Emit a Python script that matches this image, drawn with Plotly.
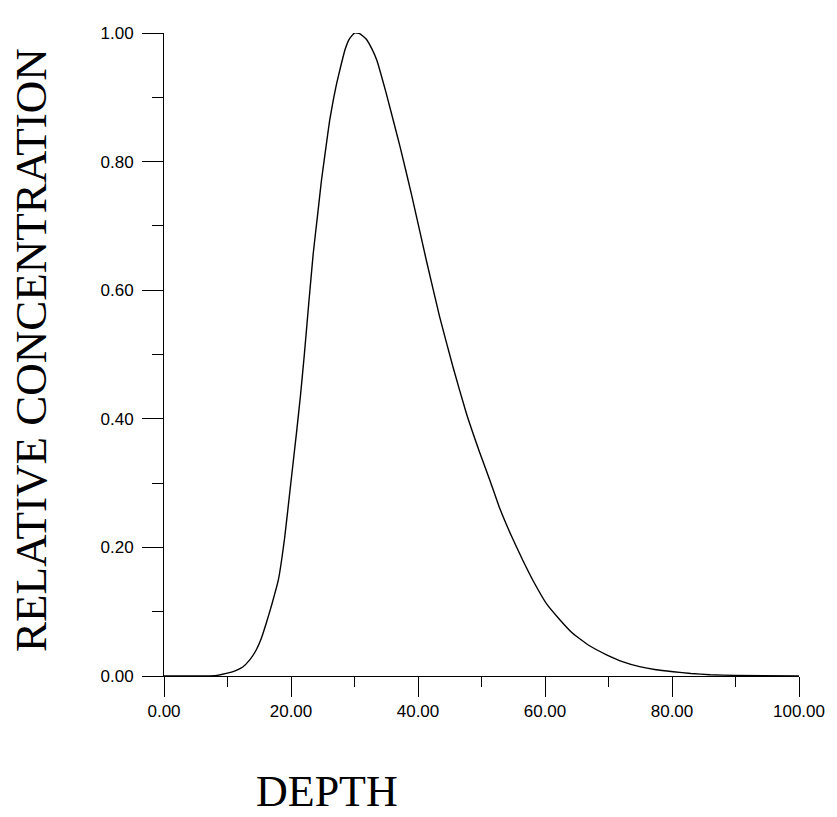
import plotly.graph_objects as go

depth = [0, 5, 8, 9.8, 11.2, 12.4, 13.5, 14.5, 15.3, 16.1, 17.0, 18.0, 19.0, 19.8, 20.85, 21.5,
         22.1, 22.8, 23.5, 24.2, 24.8, 25.5, 26.1, 26.7, 27.2, 27.9, 28.5, 29.2, 30.0, 30.8,
         31.9, 32.7, 33.5, 35.0, 37.2, 39.0, 41.3, 43.4, 45.5, 47.6,
         49.7, 51.3, 52.9, 54.7, 56.5, 58.3, 60.2, 62.3, 64.4, 67.0, 69.7, 72.3, 74.9, 77.5,
         80.2, 83.0, 86.0, 90.0, 100.0]
conc = [0, 0, 0.0005, 0.004, 0.008, 0.014, 0.025, 0.040, 0.058, 0.082, 0.112, 0.149, 0.215,
        0.285, 0.377, 0.437, 0.50, 0.58, 0.657, 0.718, 0.771, 0.822, 0.865, 0.898, 0.922,
        0.951, 0.974, 0.991, 1.0, 0.999, 0.990, 0.976, 0.958, 0.906, 0.822, 0.748, 0.647,
        0.559, 0.481, 0.409, 0.348, 0.305, 0.260, 0.218, 0.180, 0.145, 0.113, 0.088, 0.066,
        0.047, 0.033, 0.022, 0.0145, 0.0098, 0.0067, 0.004, 0.002, 0.001, 0.0]

x_title = "DEPTH"
y_title = "RELATIVE CONCENTRATION"

fig = go.Figure()
fig.add_trace(go.Scatter(x=depth, y=conc, mode="lines",
                         line=dict(color="black", width=1.4, shape="spline", smoothing=0.4),
                         showlegend=False))

tickfont = dict(family="Liberation Sans, Arial", size=17, color="black")
fig.update_layout(
    width=837, height=817,
    margin=dict(l=164, r=38, t=33, b=141),
    paper_bgcolor="white", plot_bgcolor="white",
    xaxis=dict(range=[0, 100], dtick=20, tick0=0, tickformat=".2f", ticks="outside", ticklen=20,
               tickcolor="black", tickwidth=1, showline=True, linecolor="black", linewidth=1,
               showgrid=False, zeroline=False, tickfont=tickfont,
               minor=dict(dtick=10, tick0=0, ticks="outside", ticklen=10, tickcolor="black",
                          tickwidth=1, showgrid=False)),
    yaxis=dict(range=[0, 1], dtick=0.2, tick0=0, tickformat=".2f", ticks="outside", ticklen=21,
               tickcolor="black", tickwidth=1, showline=True, linecolor="black", linewidth=1,
               showgrid=False, zeroline=False, tickfont=tickfont, ticklabelstandoff=5,
               minor=dict(dtick=0.1, tick0=0, ticks="outside", ticklen=11, tickcolor="black",
                          tickwidth=1, showgrid=False)),
    annotations=[
        dict(text=y_title, textangle=-90, xref="paper", yref="paper", x=-0.2094, y=0.507,
             xanchor="center", yanchor="middle", showarrow=False, borderpad=0,
             font=dict(family="Liberation Serif, Times New Roman", size=45, color="black")),
        dict(text=x_title, xref="paper", yref="paper", x=0.256, y=-0.1799,
             xanchor="center", yanchor="middle", showarrow=False, borderpad=0,
             font=dict(family="Liberation Serif, Times New Roman", size=44, color="black")),
    ],
)

fig.write_html("out.html", config={"displayModeBar": False},
               post_script="document.body.style.margin='0px';document.body.style.overflow='hidden';")
